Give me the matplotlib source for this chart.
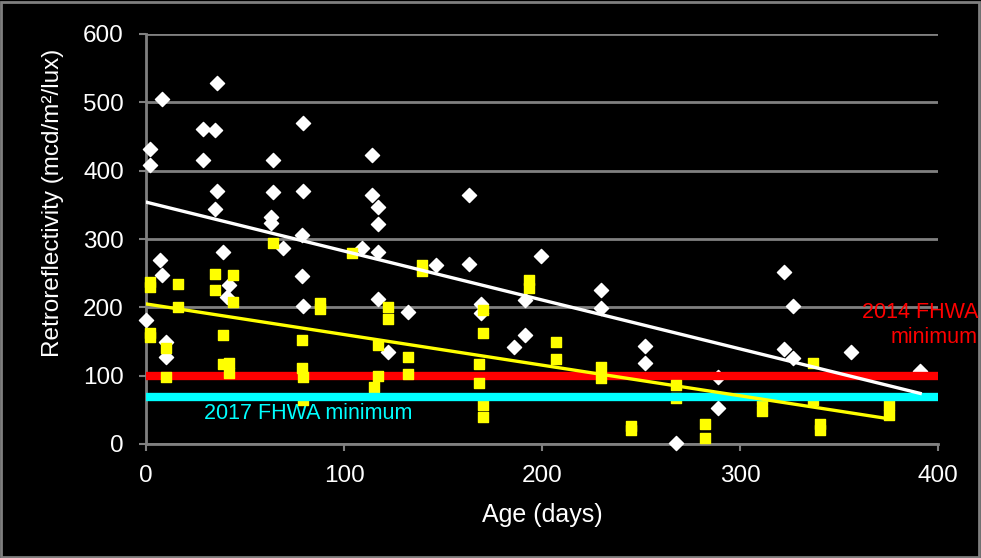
import matplotlib
matplotlib.use('Agg')
import matplotlib.pyplot as plt
from matplotlib.patches import Rectangle
import numpy as np

plt.rcParams['font.family'] = ['Liberation Sans', 'DejaVu Sans']

# white diamonds: age (days), retroreflectivity
white_age = [0, 2, 2, 8, 7, 8, 10, 10, 29, 29, 35, 36, 36, 35, 39, 42, 41,
             63, 63, 64, 64, 69, 79, 79, 79.5, 79.5, 79.5,
             109, 114, 114, 117, 117, 117, 117, 122, 132.5, 146.5,
             163, 163, 169, 169, 186, 191.5, 191.5, 199.5,
             230, 230, 252, 252, 267.5, 289, 289, 322, 327, 322, 327, 356, 391]
white_val = [181, 431, 408, 505, 269, 248, 149, 127, 461, 416, 460, 528, 370, 344, 281, 233, 215,
             332, 323, 416, 369, 287, 306, 246, 470, 370, 202,
             287, 423, 364, 347, 322, 281, 212, 134, 193, 262,
             365, 263, 205, 192, 142, 211, 160, 275,
             225, 199, 143, 119, 2, 98, 52, 252, 202, 139, 126, 135, 107]

# yellow squares
yellow_age = [2, 2, 2, 2, 16, 16, 10, 10, 35, 35, 44, 44, 39, 39, 42, 42, 64,
              79, 79, 79.5, 79.5, 88, 88, 104, 139.5, 139.5, 122, 122, 117, 117, 115,
              132.5, 132.5, 170, 170, 168, 168, 170, 170, 193.5, 193.5,
              207, 207, 230, 230, 267.5, 267.5, 245, 245, 282.5, 282.5,
              311, 311, 337, 337, 340.5, 340.5, 375, 375]
yellow_val = [237, 230, 163, 156, 234, 200, 140, 98, 249, 225, 247, 208, 160, 117, 118, 104, 294,
              152, 111, 98, 64, 207, 197, 280, 262, 253, 200, 183, 145, 99, 84,
              127, 102, 196, 163, 117, 89, 57, 40, 240, 229,
              149, 124, 112, 97, 86, 68, 27, 20, 29, 9,
              48, 64, 118, 64, 30, 20, 57, 43]

# linear trendlines as shown (intercept, slope)
white_trend = (354, -0.716)
yellow_trend = (205, -0.448)

fhwa_2014 = 100
fhwa_2017 = 69
x_range = [0, 400]

fig = plt.figure(figsize=(9.81, 5.58), dpi=100, facecolor='black')
fig.patches.append(Rectangle((0.001, 0.002), 0.997, 0.995, transform=fig.transFigure,
                             fill=False, edgecolor='#7f7f7f', linewidth=2))
ax = fig.add_axes([146/981, 1 - 444/558, 792/981, 410/558])
ax.set_facecolor('black')

ax.scatter(white_age, white_val, marker='D', s=52, color='white', zorder=3, clip_on=False)
ax.plot(x_range, [fhwa_2014, fhwa_2014], color='#ff0000', lw=6, zorder=4, solid_capstyle='butt')
ax.scatter(yellow_age, yellow_val, marker='s', s=62, color='#ffff00', zorder=5, clip_on=False)
ax.plot(x_range, [fhwa_2017, fhwa_2017], color='#00ffff', lw=6, zorder=6, solid_capstyle='butt')

wx = np.array([0, max(white_age)])
yx = np.array([0, max(yellow_age)])
ax.plot(wx, white_trend[0] + white_trend[1] * wx, color='white', lw=2.4, zorder=7)
ax.plot(yx, yellow_trend[0] + yellow_trend[1] * yx, color='#ffff00', lw=2.4, zorder=7)

ax.set_xlim(0, 400)
ax.set_ylim(0, 600)
ax.set_xticks([0, 100, 200, 300, 400])
ax.set_yticks(range(0, 601, 100))
ax.grid(axis='y', color='#808080', lw=2)
ax.set_axisbelow(True)
for s in ['top', 'right']:
    ax.spines[s].set_visible(False)
for s in ['left', 'bottom']:
    ax.spines[s].set_color('#808080')
    ax.spines[s].set_linewidth(2)
ax.tick_params(colors='#808080', labelcolor='white', labelsize=17.5, length=5, width=1.5)
ax.tick_params(axis='y', pad=11)
ax.tick_params(axis='x', pad=10)

fig.text(53/981, 1 - 203/558, 'Retroreflectivity (mcd/m²/lux)', rotation=90,
         ha='center', va='center', color='white', fontsize=17.5)
fig.text(542/981, 1 - 515/558, 'Age (days)', ha='center', va='center', color='white', fontsize=18)

ax.text(82, 45, '2017 FHWA minimum', color='#00ffff', fontsize=15.5, ha='center', va='center')
fig.text(978/981, 1 - 325/558, '2014 FHWA\nminimum', color='#ff0000', fontsize=15.5,
         ha='right', va='center', linespacing=1.25)

fig.savefig('out.png', facecolor='black')
